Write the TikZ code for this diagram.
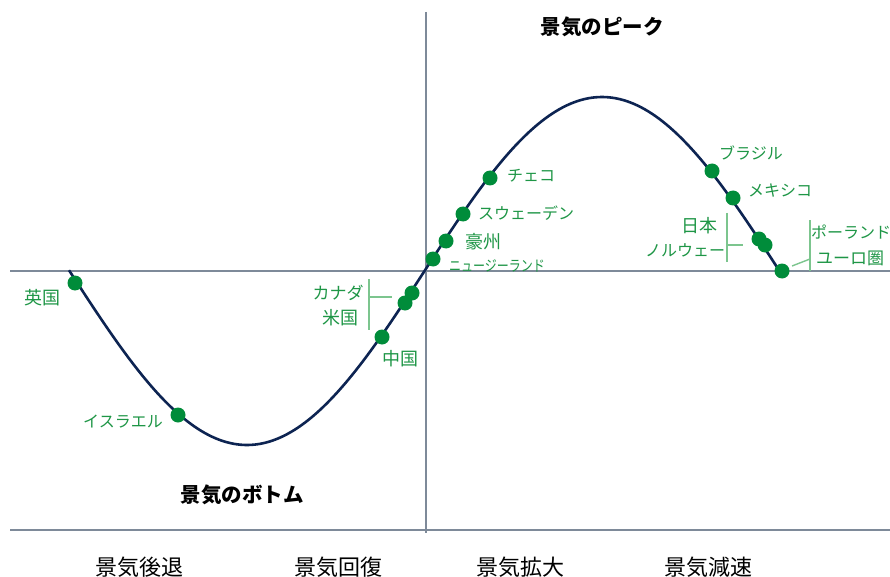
\documentclass[tikz,border=0pt]{standalone}
\usepackage{fontspec}
\setmainfont{Noto Sans CJK JP}
\newfontfamily\cjk{Noto Sans CJK JP}
\begin{document}
\begin{tikzpicture}[x=1pt,y=-1pt,
  axis/.style={draw=axisgray,line width=1.5pt},
  dot/.style={circle,fill=dotgreen,inner sep=0pt,minimum size=15pt},
  lbl/.style={text=labgreen,font=\cjk\fontsize{16}{16}\selectfont,inner sep=0pt},
  klbl/.style={text=labgreen,font=\cjk\fontsize{18}{18}\selectfont,inner sep=0pt},
  phase/.style={text=black,font=\cjk\fontsize{22}{22}\selectfont,inner sep=0pt},
  ttl/.style={text=black,font=\cjk\bfseries\fontsize{20.5}{20.5}\selectfont,inner sep=0pt},
  brk/.style={draw=brkgreen,line width=1.4pt}]
\definecolor{axisgray}{HTML}{7E8A99}
\definecolor{dotgreen}{HTML}{008C3A}
\definecolor{labgreen}{HTML}{1E9646}
\definecolor{brkgreen}{HTML}{7CC58E}
\definecolor{curve}{HTML}{0D2452}
\useasboundingbox[fill=white] (0,0) rectangle (890,577);
% axes
\coordinate (hL) at (10,271); \coordinate (hR) at (890,271);
\coordinate (vT) at (426,12); \coordinate (vB) at (426,533);
\coordinate (bL) at (10,530); \coordinate (bR) at (890,530);
\draw[axis] (hL) -- (hR);
\draw[axis] (vT) -- (vB);
\draw[axis] (bL) -- (bR);
% curve
\draw[curve,line width=2.6pt] plot[domain=69:781,samples=200] (\x,{271-174*sin((\x-424.5)*0.507042)});
% dots
\node[dot] (uk) at (75,283) {};
\node[dot] (il) at (178,415) {};
\node[dot] (cn) at (382,337) {};
\node[dot] (us) at (405,303) {};
\node[dot] (ca) at (412,293) {};
\node[dot] (nz) at (433,259) {};
\node[dot] (au) at (446,241) {};
\node[dot] (se) at (463,214) {};
\node[dot] (cz) at (490,178) {};
\node[dot] (br) at (712,171) {};
\node[dot] (mx) at (733,198) {};
\node[dot] (jp) at (759,239) {};
\node[dot] (no) at (765,245) {};
\node[dot] (eu) at (782,271) {};
% labels
\node[klbl] (tuk) at (42,298) {英国};
\node[lbl] (til) at (123,422) {イスラエル};
\node[klbl] (tcn) at (400,359) {中国};
\node[lbl,font=\cjk\fontsize{17}{17}\selectfont] (tca) at (338,293) {カナダ};
\node[klbl] (tus) at (340,318) {米国};
\node[lbl,xscale=0.8,font=\cjk\fontsize{15}{15}\selectfont] (tnz) at (497,266) {ニュージーランド};
\node[klbl] (tau) at (483,242) {豪州};
\node[lbl] (tse) at (526,213) {スウェーデン};
\node[lbl] (tcz) at (531,176) {チェコ};
\node[lbl] (tbr) at (751,153) {ブラジル};
\node[lbl] (tmx) at (780,191) {メキシコ};
\node[klbl] (tjp) at (699,226) {日本};
\node[lbl] (tno) at (685,250) {ノルウェー};
\node[lbl] (tpl) at (851,232) {ポーランド};
\node[lbl,font=\cjk\fontsize{17}{17}\selectfont] (teu) at (850,258) {ユーロ圏};
% brackets
\coordinate (b1t) at (369,279); \coordinate (b1b) at (369,330);
\coordinate (b1m) at (369,297); \coordinate (b1e) at (392,297);
\draw[brk] (b1t) -- (b1b); \draw[brk] (b1m) -- (b1e);
\coordinate (b2t) at (727,213); \coordinate (b2b) at (727,262);
\coordinate (b2m) at (727,245); \coordinate (b2e) at (743,245);
\draw[brk] (b2t) -- (b2b); \draw[brk] (b2m) -- (b2e);
\coordinate (b3t) at (810,220); \coordinate (b3b) at (810,271);
\coordinate (b3m) at (810,259); \coordinate (b3e) at (792,266);
\draw[brk] (b3t) -- (b3b); \draw[brk] (b3m) -- (b3e);
% titles
\node[ttl] (peak) at (602,27) {景気のピーク};
\node[ttl] (bottom) at (242,495) {景気のボトム};
% phases
\node[phase] (p1) at (139,567) {景気後退};
\node[phase] (p2) at (338,567) {景気回復};
\node[phase] (p3) at (520,567) {景気拡大};
\node[phase] (p4) at (708,567) {景気減速};
\end{tikzpicture}
\end{document}
